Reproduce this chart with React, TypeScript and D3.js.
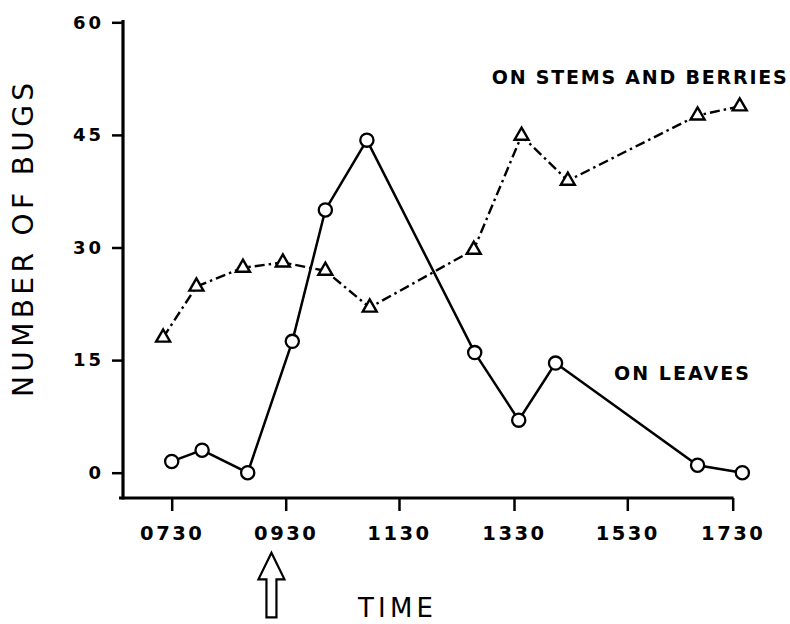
import React, { useRef, useEffect } from 'react'
import * as d3 from 'd3'

// readings (time of day, count of bugs)
const leafTimes = ['0730', '0802', '0850', '0937', '1012', '1056', '1249', '1335', '1414', '1650', '1741']
const leafCounts = [1.5, 3, 0, 17.5, 35, 44.3, 16, 7, 14.6, 1, 0]

const stemTimes = ['0721', '0756', '0845', '0927', '1012', '1059', '1248', '1338', '1427', '1650', '1738']
const stemCounts = [18, 24.8, 27.3, 28, 26.9, 22, 29.7, 44.9, 38.9, 47.6, 48.8]

const xTickLabels = ['0730', '0930', '1130', '1330', '1530', '1730']
const yTicks = [0, 15, 30, 45, 60]
const arrowTime = '0915'

const W = 790
const H = 624
const FONT = '"DejaVu Sans", sans-serif'

const toHours = (t: string) => +t.slice(0, 2) + +t.slice(2) / 60

// hand-drawn axis: tick spacing is not perfectly even, so map each tick
const x = d3
  .scaleLinear()
  .domain(xTickLabels.map(toHours))
  .range([171.7, 285.7, 399, 514, 627.3, 732.7])
const y = d3.scaleLinear().domain([0, 60]).range([472.7, 22.3])

const AXIS_X = 123
const AXIS_Y = 498

export default function App() {
  const xAxisRef = useRef<SVGGElement>(null)
  const yAxisRef = useRef<SVGGElement>(null)

  useEffect(() => {
    const xa = d3.select(xAxisRef.current)
    xa.call(
      d3
        .axisBottom(x)
        .tickValues(xTickLabels.map(toHours))
        .tickFormat((_, i) => xTickLabels[i])
        .tickSize(13)
        .tickSizeOuter(0)
        .tickPadding(15)
    )
    xa.select('.domain').remove()
    xa.selectAll('line').attr('stroke', '#000').attr('stroke-width', 2.5)
    xa.selectAll('text')
      .attr('fill', '#000')
      .attr('font-size', 19.5)
      .attr('font-weight', 'bold')
      .attr('font-family', FONT)
      .attr('letter-spacing', 2.5)

    const ya = d3.select(yAxisRef.current)
    ya.call(d3.axisLeft(y).tickValues(yTicks).tickSize(11).tickSizeOuter(0).tickPadding(8))
    ya.select('.domain').remove()
    ya.selectAll('line').attr('stroke', '#000').attr('stroke-width', 2.5)
    ya.selectAll('text')
      .attr('fill', '#000')
      .attr('font-size', 18)
      .attr('font-weight', 'bold')
      .attr('font-family', FONT)
      .attr('letter-spacing', 3)
  }, [])

  const leaves = leafTimes.map((t, i) => [x(toHours(t)), y(leafCounts[i])] as [number, number])
  const stems = stemTimes.map((t, i) => [x(toHours(t)), y(stemCounts[i])] as [number, number])
  const line = d3.line()
  const tri = d3.symbol(d3.symbolTriangle, 85)()

  const ax = x(toHours(arrowTime))

  return (
    <svg
      width={W}
      height={H}
      style={{ position: 'absolute', left: 0, top: 0, background: '#fff' }}
    >
      <rect width={W} height={H} fill="#fff" />

      {/* axes */}
      <line x1={AXIS_X} x2={AXIS_X} y1={20} y2={AXIS_Y + 1.5} stroke="#000" strokeWidth={3.2} />
      <line x1={AXIS_X - 4} x2={733.5} y1={AXIS_Y} y2={AXIS_Y} stroke="#000" strokeWidth={3.2} />
      <g ref={xAxisRef} transform={`translate(0,${AXIS_Y})`} />
      <g ref={yAxisRef} transform={`translate(${AXIS_X},0)`} />

      {/* on stems and berries */}
      <path
        d={line(stems) ?? ''}
        fill="none"
        stroke="#000"
        strokeWidth={2.4}
        strokeDasharray="10 4 2.5 4"
      />
      {stems.map(([px, py], i) => (
        <path
          key={i}
          d={tri ?? ''}
          transform={`translate(${px},${py})`}
          fill="#fff"
          stroke="#000"
          strokeWidth={2.4}
        />
      ))}

      {/* on leaves */}
      <path d={line(leaves) ?? ''} fill="none" stroke="#000" strokeWidth={2.5} />
      {leaves.map(([px, py], i) => (
        <circle key={i} cx={px} cy={py} r={6.6} fill="#fff" stroke="#000" strokeWidth={2.3} />
      ))}

      {/* labels */}
      <text
        x={491.7}
        y={84}
        fontFamily={FONT}
        fontWeight="bold"
        fontSize={19}
        textLength={295}
        lengthAdjust="spacing"
      >
        ON STEMS AND BERRIES
      </text>
      <text
        x={614}
        y={380}
        fontFamily={FONT}
        fontWeight="bold"
        fontSize={19}
        textLength={135}
        lengthAdjust="spacing"
      >
        ON LEAVES
      </text>
      <text
        transform="translate(33,240) rotate(-90)"
        textAnchor="middle"
        fontFamily={FONT}
        fontSize={28}
        textLength={314}
        lengthAdjust="spacing"
      >
        NUMBER OF BUGS
      </text>
      <text
        x={358}
        y={617}
        fontFamily={FONT}
        fontSize={26}
        textLength={75}
        lengthAdjust="spacing"
      >
        TIME
      </text>

      {/* hollow arrow under the time axis */}
      <path
        d={`M${ax},552.7 L${ax + 13},579.3 L${ax + 5},579.3 L${ax + 5},617.3 L${ax - 5},617.3 L${ax - 5},579.3 L${ax - 13},579.3 Z`}
        fill="#fff"
        stroke="#000"
        strokeWidth={2.2}
        strokeLinejoin="miter"
      />
    </svg>
  )
}
